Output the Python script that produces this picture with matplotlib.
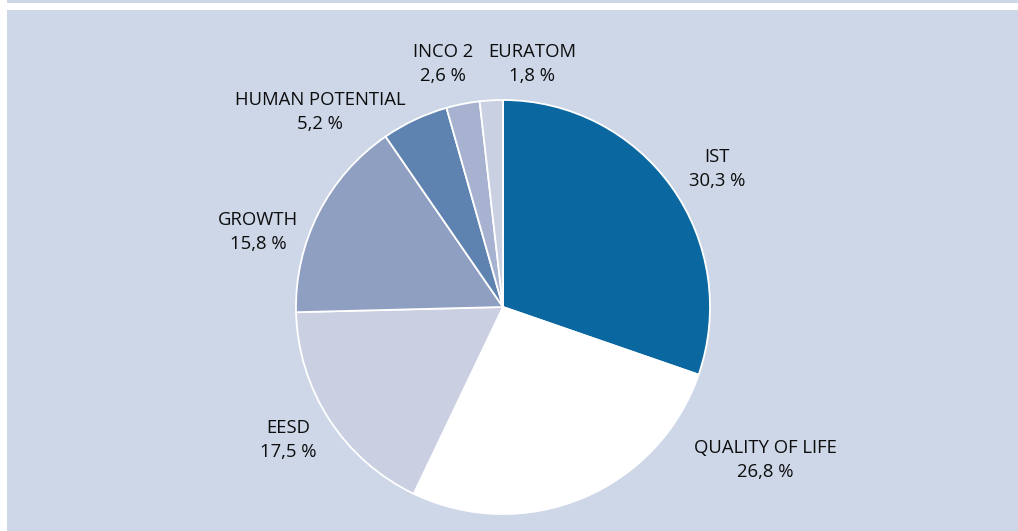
import matplotlib.pyplot as plt
from matplotlib.patches import Rectangle

# --- Budget shares per programme ---
programmes = ["IST", "QUALITY OF LIFE", "EESD", "GROWTH",
              "HUMAN POTENTIAL", "INCO 2", "EURATOM"]
shares = [30.3, 26.8, 17.5, 15.8, 5.2, 2.6, 1.8]
colors = ["#0a67a0", "#ffffff", "#cbcfe2", "#8f9fc2",
          "#5f83b0", "#a6b2cf", "#c9d0e2"]

# label anchor points (pixels from top-left)
label_pos = [(717, 169), (765, 460), (288, 440), (258, 232),
             (320, 112), (443, 64), (532, 64)]

W, H = 1018, 531
BG = "#cdd7e8"

plt.rcParams['font.family'] = ['Open Sans', 'DejaVu Sans']

fig = plt.figure(figsize=(W / 100, H / 100), dpi=100)
fig.patch.set_facecolor("white")

ax = fig.add_axes([0, 0, 1, 1])
ax.axis("off")

# top strip and main panel
ax.add_patch(Rectangle((7, H - 3), W, 3, facecolor=BG, edgecolor="none", zorder=0))
ax.add_patch(Rectangle((7, 0), W, H - 10, facecolor=BG, edgecolor="none", zorder=0))

ax.pie(shares, colors=colors, startangle=90, counterclock=False,
       center=(503, H - 307), radius=207,
       wedgeprops=dict(edgecolor="white", linewidth=1.3))

for name, val, (x, y) in zip(programmes, shares, label_pos):
    txt = f"{name}\n{val:.1f} %".replace(".", ",")
    ax.text(x, H - y, txt, ha="center", va="center", fontsize=13.3,
            color="#0d0d0d", linespacing=1.38)

ax.set_xlim(0, W)
ax.set_ylim(0, H)
ax.set_aspect("equal")
ax.axis("off")

fig.savefig("out.png", dpi=100)
